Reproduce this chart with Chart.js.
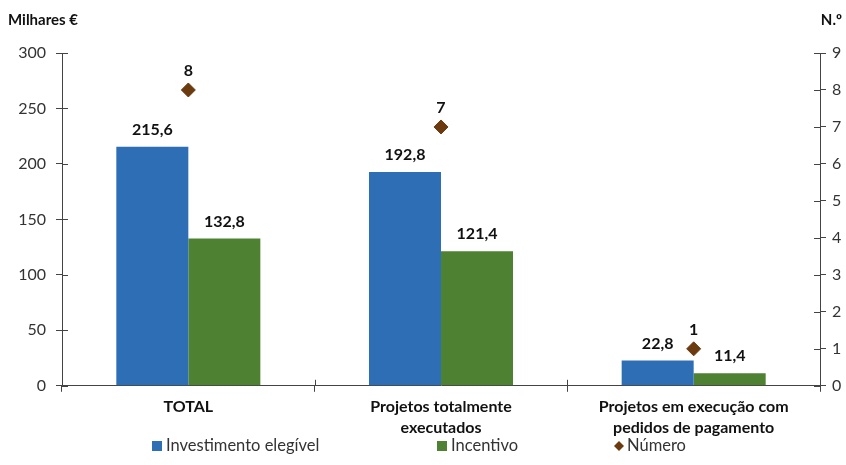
<!DOCTYPE html>
<html>
<head>
<meta charset="utf-8">
<script src="https://cdn.jsdelivr.net/npm/chart.js@4.4.1/dist/chart.umd.min.js"></script>
<style>
  html, body { margin: 0; padding: 0; background: #fff; }
  #wrap { width: 846px; height: 465px; position: relative; }
</style>
</head>
<body>
<div id="wrap"><canvas id="chart"></canvas></div>
<script>
// ===== Data =====
const categories = ["TOTAL", ["Projetos totalmente", "executados"], ["Projetos em execução com", "pedidos de pagamento"]];
const investimento = [215.6, 192.8, 22.8];
const incentivo = [132.8, 121.4, 11.4];
const numero = [8, 7, 1];

const FONT = "Lato, 'Open Sans', sans-serif";
const TEXT = "#333";

// ===== Plugins =====
const valueLabels = {
  id: "valueLabels",
  afterDatasetsDraw(chart) {
    const ctx = chart.ctx;
    ctx.save();
    ctx.fillStyle = "#111";
    ctx.font = "bold 16px " + FONT;
    ctx.textAlign = "center";
    ctx.textBaseline = "bottom";
    chart.data.datasets.forEach((ds, i) => {
      chart.getDatasetMeta(i).data.forEach((el, j) => {
        const txt = ds.data[j].toLocaleString("pt-PT", { minimumFractionDigits: ds.type === "line" ? 0 : 1 });
        const gap = ds.type === "line" ? 11 : 9;
        ctx.fillText(txt, el.x, el.y - gap);
      });
    });
    ctx.restore();
  }
};

// legend items with Excel-like spacing
const bottomLegend = {
  id: "bottomLegend",
  afterDraw(chart) {
    const ctx = chart.ctx;
    const y = 446;
    const items = [
      { x: 152, ds: 1 },
      { x: 437, ds: 2 },
      { x: 614, ds: 0 }
    ];
    ctx.save();
    ctx.font = "16.5px " + FONT;
    ctx.textBaseline = "middle";
    ctx.textAlign = "left";
    items.forEach(it => {
      const ds = chart.data.datasets[it.ds];
      ctx.fillStyle = ds.backgroundColor;
      if (ds.type === "line") {
        ctx.beginPath();
        ctx.moveTo(it.x + 5, y - 5);
        ctx.lineTo(it.x + 10, y);
        ctx.lineTo(it.x + 5, y + 5);
        ctx.lineTo(it.x, y);
        ctx.closePath();
        ctx.fill();
        ctx.fillStyle = TEXT;
        ctx.fillText(ds.label, it.x + 13, y);
      } else {
        ctx.fillRect(it.x, y - 5, 10, 10);
        ctx.fillStyle = TEXT;
        ctx.fillText(ds.label, it.x + 14, y);
      }
    });
    ctx.restore();
  }
};

const axisExtras = {
  id: "axisExtras",
  afterDraw(chart) {
    const ctx = chart.ctx;
    const { y, y1, x } = chart.scales;
    ctx.save();
    ctx.strokeStyle = "#444";
    ctx.lineWidth = 1;
    ctx.beginPath();
    y.ticks.forEach((t, i) => {
      const py = Math.round(y.getPixelForTick(i)) + 0.5;
      ctx.moveTo(y.right, py); ctx.lineTo(y.right + 6, py);
    });
    y1.ticks.forEach((t, i) => {
      const py = Math.round(y1.getPixelForTick(i)) + 0.5;
      ctx.moveTo(y1.left - 6, py); ctx.lineTo(y1.left, py);
    });
    for (let i = 1; i < x.ticks.length; i++) {
      const px = Math.round((x.getPixelForTick(i - 1) + x.getPixelForTick(i)) / 2) + 0.5;
      ctx.moveTo(px, x.top - 6); ctx.lineTo(px, x.top);
    }
    ctx.stroke();
    // axis titles
    ctx.fillStyle = "#111";
    ctx.font = "bold 15px " + FONT;
    ctx.textBaseline = "middle";
    ctx.textAlign = "left";
    ctx.fillText("Milhares €", 8, 20);
    ctx.textAlign = "right";
    ctx.fillText("N.º", 842, 20);
    ctx.restore();
  }
};

// ===== Chart =====
new Chart(document.getElementById("chart"), {
  type: "bar",
  data: {
    labels: categories,
    datasets: [
      {
        type: "line",
        label: "Número",
        data: numero,
        yAxisID: "y1",
        showLine: false,
        pointStyle: "rectRot",
        pointRadius: 7,
        pointHoverRadius: 7,
        backgroundColor: "#6B3A0E",
        borderColor: "#6B3A0E",
        order: 0
      },
      {
        label: "Investimento elegível",
        data: investimento,
        yAxisID: "y",
        backgroundColor: "#2E6EB5",
        barPercentage: 1,
        categoryPercentage: 0.57,
        order: 1
      },
      {
        label: "Incentivo",
        data: incentivo,
        yAxisID: "y",
        backgroundColor: "#4E8232",
        barPercentage: 1,
        categoryPercentage: 0.57,
        order: 2
      }
    ]
  },
  options: {
    responsive: true,
    maintainAspectRatio: false,
    animation: false,
    layout: { padding: { top: 53, left: 0, right: 0, bottom: 22 } },
    plugins: {
      tooltip: { enabled: false },
      legend: { display: false }
    },
    scales: {
      x: {
        grid: { display: true, drawOnChartArea: false, drawTicks: true, tickLength: 6, color: "#444", offset: true },
        border: { color: "#444" },
        ticks: { color: "#111", font: { family: FONT, size: 16, weight: "bold", lineHeight: 1.35 }, maxRotation: 0, autoSkip: false, padding: 4 }
      },
      y: {
        position: "left",
        min: 0,
        max: 300,
        ticks: { stepSize: 50, color: TEXT, font: { family: FONT, size: 16 }, padding: 10 },
        grid: { drawOnChartArea: false, drawTicks: true, tickLength: 6, color: "#444" },
        border: { color: "#444" },
        afterFit(scale) { scale.width = 62; }
      },
      y1: {
        position: "right",
        min: 0,
        max: 9,
        ticks: { stepSize: 1, color: TEXT, font: { family: FONT, size: 16 }, padding: 6 },
        grid: { drawOnChartArea: false, drawTicks: true, tickLength: 6, color: "#444" },
        border: { color: "#444" },
        afterFit(scale) { scale.width = 26; }
      }
    }
  },
  plugins: [valueLabels, axisExtras, bottomLegend]
});
</script>
</body>
</html>
